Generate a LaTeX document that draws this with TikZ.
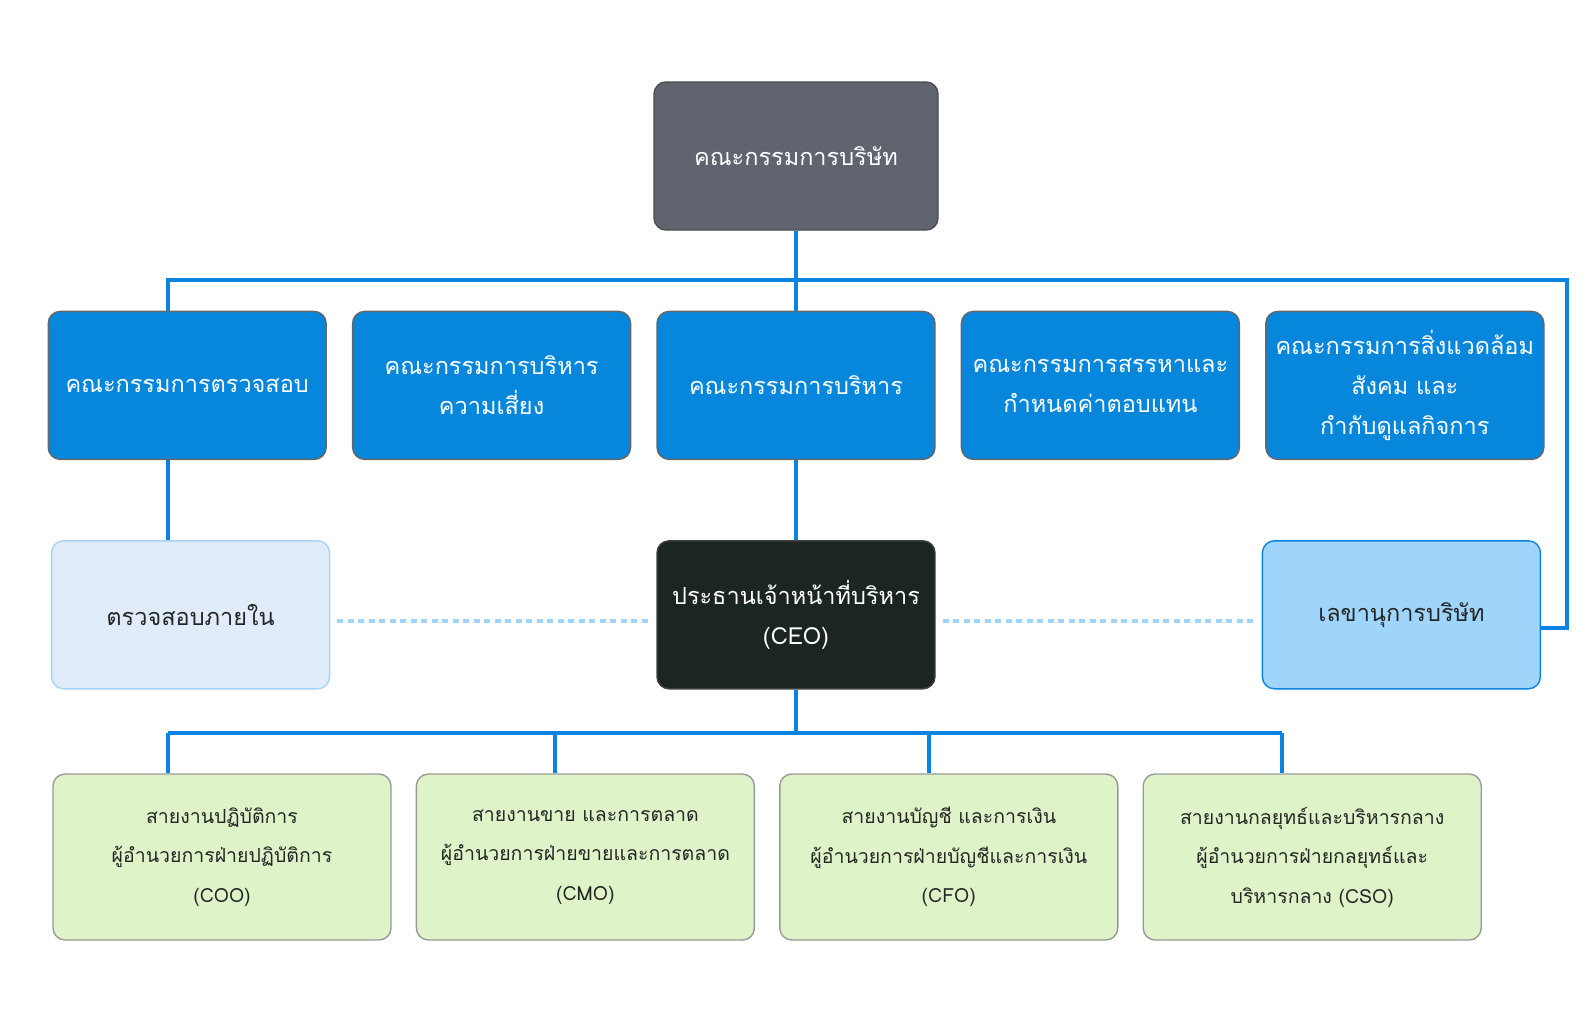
\documentclass[tikz,border=0pt]{standalone}
\usepackage{fontspec}
\newfontfamily\thaifont[Script=Thai]{Loma}
\usepackage{tikz}
\usetikzlibrary{positioning}
\definecolor{boardgray}{HTML}{60646F}
\definecolor{cmtblue}{HTML}{0787DC}
\definecolor{linkblue}{HTML}{0A84E0}
\definecolor{auditfill}{HTML}{E0ECFA}
\definecolor{auditline}{HTML}{A6D3F6}
\definecolor{ceofill}{HTML}{1B2620}
\definecolor{secfill}{HTML}{9FD4FB}
\definecolor{divfill}{HTML}{DEF3C8}
\tikzset{
  org-box/.style={rounded corners=12pt, line width=1.4pt, align=center,
    inner sep=4pt, font=\thaifont\fontsize{23.5}{40}\selectfont},
  org-board/.style={org-box, draw=black!70, fill=boardgray, text=white,
    minimum width=284pt, minimum height=148pt},
  org-committee/.style={org-box, draw=black!60, fill=cmtblue, text=white,
    minimum width=278pt, minimum height=148pt},
  org-ceo/.style={org-box, draw=black!75, fill=ceofill, text=white,
    minimum width=278pt, minimum height=148pt},
  org-audit/.style={org-box, draw=auditline, fill=auditfill, text=black!85,
    minimum width=278pt, minimum height=148pt},
  org-secretary/.style={org-box, draw=linkblue, fill=secfill, text=black!85,
    minimum width=278pt, minimum height=148pt},
  org-division/.style={org-box, draw=black!40, fill=divfill, text=black!85,
    minimum width=338pt, minimum height=166pt,
    font=\thaifont\fontsize{19.5}{39.5}\selectfont},
  org-link/.style={draw=linkblue, line width=3.5pt},
  peer-link/.style={draw=secfill, line width=3.5pt, dash pattern=on 6pt off 4.5pt,
    shorten <=7pt, shorten >=7pt}
}
\begin{document}
\begin{tikzpicture}[x=1pt, y=-1pt, node distance=80pt and 25pt]
  \useasboundingbox (0,0) rectangle (1592,1020);
  \node[org-board] (board) at (796,156) {คณะกรรมการบริษัท};
  % committees
  \node[org-committee, below=of board] (cmt-exec) {คณะกรรมการบริหาร};
  \node[org-committee, left=of cmt-exec] (cmt-risk) {คณะกรรมการบริหาร\\ความเสี่ยง};
  \node[org-committee, left=of cmt-risk] (cmt-audit) {คณะกรรมการตรวจสอบ};
  \node[org-committee, right=of cmt-exec] (cmt-nom) {คณะกรรมการสรรหาและ\\กำหนดค่าตอบแทน};
  \node[org-committee, right=of cmt-nom] (cmt-env) {คณะกรรมการสิ่งแวดล้อม\\สังคม และ\\กำกับดูแลกิจการ};
  % management
  \node[org-ceo, below=of cmt-exec] (ceo) {ประธานเจ้าหน้าที่บริหาร\\(CEO)};
  \node[org-audit, left=326pt of ceo] (audit-int) {ตรวจสอบภายใน};
  \node[org-secretary, right=326pt of ceo] (secretary) {เลขานุการบริษัท};
  % divisions
  \node[org-division] (div-ops) at (222,857) {สายงานปฏิบัติการ\\ผู้อำนวยการฝ่ายปฏิบัติการ\\(COO)};
  \node[org-division, right=24pt of div-ops] (div-mkt) {สายงานขาย และการตลาด\\ผู้อำนวยการฝ่ายขายและการตลาด\\(CMO)};
  \node[org-division, right=24pt of div-mkt] (div-fin) {สายงานบัญชี และการเงิน\\ผู้อำนวยการฝ่ายบัญชีและการเงิน\\(CFO)};
  \node[org-division, right=24pt of div-fin] (div-str) {สายงานกลยุทธ์และบริหารกลาง\\ผู้อำนวยการฝ่ายกลยุทธ์และ\\บริหารกลาง (CSO)};

  \coordinate (bus-w) at (168,280);
  \coordinate (bus-e) at (1567,280);
  \coordinate (ceo-bus) at (796,733);
  \coordinate (drop-ops) at (168,733);
  \coordinate (drop-mkt) at (555,733);
  \coordinate (drop-fin) at (929,733);
  \coordinate (drop-str) at (1282,733);

  \draw[org-link] (board) -- (cmt-exec);
  \draw[org-link] (cmt-audit.north -| bus-w) -- (bus-w) -- (bus-e) |- ([yshift=-13pt]secretary.east);
  \draw[org-link] (cmt-audit.south -| bus-w) -- (audit-int.north -| bus-w);
  \draw[org-link] (cmt-exec) -- (ceo);
  \draw[org-link] (ceo) -- (ceo-bus);
  \draw[org-link] (drop-ops) -- (drop-str);
  \foreach \d in {ops,mkt,fin,str}
    \draw[org-link] (drop-\d) -- (drop-\d |- div-\d.north);
  \draw[peer-link] ([yshift=-6pt]audit-int.east) -- ([yshift=-6pt]ceo.west);
  \draw[peer-link] ([yshift=-6pt]ceo.east) -- ([yshift=-6pt]secretary.west);
\end{tikzpicture}
\end{document}
